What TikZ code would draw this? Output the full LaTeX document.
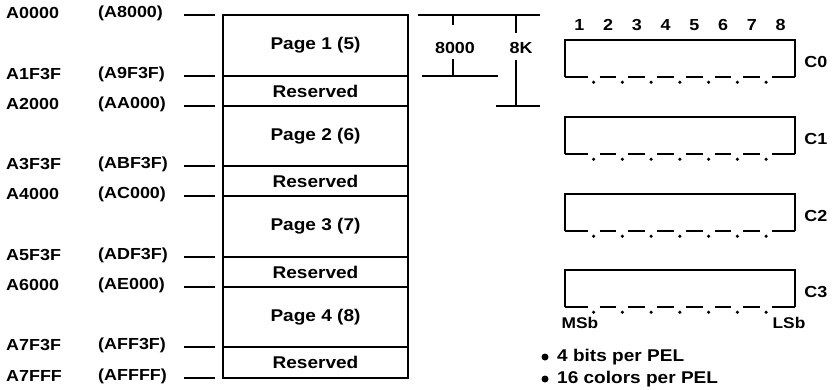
\documentclass[tikz,border=0pt]{standalone}
\usepackage{fontspec}
\setmainfont{Liberation Sans}[FakeStretch=1.12]
\begin{document}
\begin{tikzpicture}[x=1pt,y=-1pt,
  ln/.style={line width=2pt,line cap=butt},
  region/.style={draw,line width=2pt,minimum width=185pt,inner sep=0pt,font=\fontsize{17}{19}\selectfont\bfseries},
  addr/.style={anchor=west,inner sep=0pt,font=\fontsize{16}{18}\selectfont\bfseries},
  lbl/.style={inner sep=0pt,font=\fontsize{16}{18}\selectfont\bfseries},
  bitbox/.style={minimum width=230pt,minimum height=37pt,inner sep=0pt},
  bitnum/.style={inner sep=0pt,font=\fontsize{16}{18}\selectfont\bfseries},
  dot/.style={circle,fill=black,inner sep=0pt,minimum size=3.5pt}
]
\useasboundingbox (0,0) rectangle (839,389);

% memory map regions
\node[region,minimum height=61pt] (p1) at (315.5,45.5) {Page 1 (5)};
\node[region,minimum height=30pt] (r1) at (315.5,91) {Reserved};
\node[region,minimum height=60pt] (p2) at (315.5,136) {Page 2 (6)};
\node[region,minimum height=30pt] (r2) at (315.5,181) {Reserved};
\node[region,minimum height=61pt] (p3) at (315.5,226.5) {Page 3 (7)};
\node[region,minimum height=30pt] (r3) at (315.5,272) {Reserved};
\node[region,minimum height=60pt] (p4) at (315.5,317) {Page 4 (8)};
\node[region,minimum height=31pt] (r4) at (315.5,362.5) {Reserved};

% address labels and ticks
\foreach \y/\a/\b/\n in {15/A0000/A8000/t0, 76/A1F3F/A9F3F/t1, 106/A2000/AA000/t2,
  166/A3F3F/ABF3F/t3, 196/A4000/AC000/t4, 257/A5F3F/ADF3F/t5, 287/A6000/AE000/t6,
  347/A7F3F/AFF3F/t7, 378/A7FFF/AFFFF/t8}{
  \node[addr] (a\n) at (6,{\y-2}) {\a};
  \node[addr] (b\n) at (98,{\y-2}) {(\b)};
  \coordinate (s\n) at (184,\y);
  \coordinate (e\n) at (215,\y);
  \draw[ln] (s\n) -- (e\n);
}

% dimension marks
\coordinate (dtl) at (418,15);
\coordinate (dtr) at (540,15);
\draw[ln] (dtl) -- (dtr);
\node[lbl] (d8000) at (455,47.5) {8000};
\node[lbl] (d8k) at (521,47.5) {8K};
\coordinate (u1) at (453,15); \coordinate (u1b) at (453,25);
\coordinate (u2) at (453,59); \coordinate (u2b) at (453,76);
\draw[ln] (u1) -- (u1b);
\draw[ln] (u2) -- (u2b);
\coordinate (h1l) at (422,76); \coordinate (h1r) at (498,76);
\draw[ln] (h1l) -- (h1r);
\coordinate (v1) at (516,15); \coordinate (v1b) at (516,33);
\coordinate (v2) at (516,60); \coordinate (v2b) at (516,106);
\draw[ln] (v1) -- (v1b);
\draw[ln] (v2) -- (v2b);
\coordinate (h2l) at (496,106); \coordinate (h2r) at (540,106);
\draw[ln] (h2l) -- (h2r);

% bit numbers
\foreach \i in {1,...,8}{
  \node[bitnum] (n\i) at ({565+(\i-0.5)*28.75},25) {\i};
}

% bit plane boxes
\foreach \k/\yc in {0/58.5, 1/135.5, 2/212.5, 3/288.5}{
  \node[bitbox] (c\k) at (680,\yc) {};
  \draw[ln,line join=miter] (c\k.south west) -- (c\k.north west) -- (c\k.north east) -- (c\k.south east);
  \draw[ln] (c\k.south west) -- ++(23,0);
  \foreach \j in {1,...,6}{
    \draw[ln] ([xshift={\j*28.75+6}]c\k.south west) -- ([xshift={(\j+1)*28.75-6}]c\k.south west);
  }
  \draw[ln] ([xshift={7*28.75+6}]c\k.south west) -- (c\k.south east);
  \foreach \j in {1,...,7}{
    \node[dot] at ([xshift={\j*28.75},yshift=-5pt]c\k.south west) {};
  }
  \node[lbl,anchor=west] (cl\k) at ([xshift=9pt,yshift=-3.5pt]c\k.east) {C\k};
}

\node[lbl,font=\fontsize{15.5}{17}\selectfont\bfseries] (msb) at (580,323) {MSb};
\node[lbl,font=\fontsize{15.5}{17}\selectfont\bfseries] (lsb) at (789,323) {LSb};

% bullets
\node[dot,minimum size=7pt] (bu1) at (545,357) {};
\node[dot,minimum size=7pt] (bu2) at (545,379) {};
\node[addr,font=\fontsize{17}{19}\selectfont\bfseries] (tx1) at (557,357) {4 bits per PEL};
\node[addr,font=\fontsize{17}{19}\selectfont\bfseries] (tx2) at (557,379) {16 colors per PEL};
\end{tikzpicture}
\end{document}
